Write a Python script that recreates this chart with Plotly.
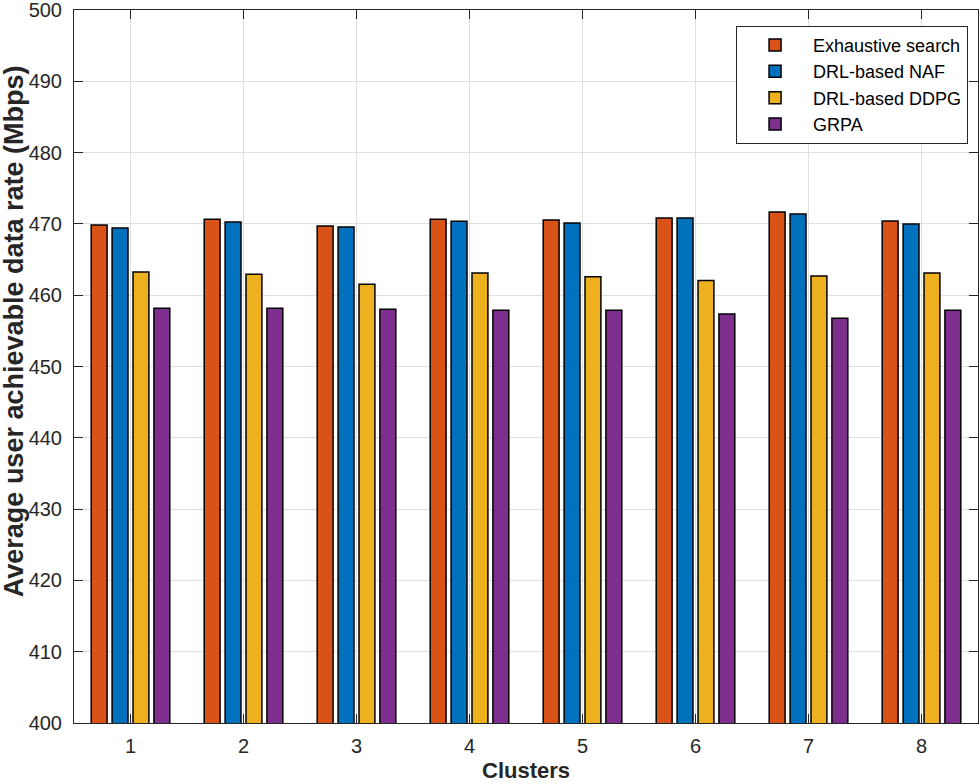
import plotly.graph_objects as go

clusters = [1, 2, 3, 4, 5, 6, 7, 8]
exhaustive = [469.86, 470.65, 469.72, 470.65, 470.56, 470.84, 471.68, 470.42]
naf = [469.44, 470.28, 469.58, 470.37, 470.14, 470.84, 471.40, 470.00]
ddpg = [463.27, 462.94, 461.53, 463.13, 462.58, 462.05, 462.70, 463.13]
grpa = [458.18, 458.18, 458.04, 457.90, 457.90, 457.38, 456.77, 457.90]
y_ticks = [400, 410, 420, 430, 440, 450, 460, 470, 480, 490, 500]

series = [
    ("Exhaustive search", exhaustive, "#D95319"),
    ("DRL-based NAF", naf, "#0072BD"),
    ("DRL-based DDPG", ddpg, "#EDB120"),
    ("GRPA", grpa, "#7E2F8E"),
]

fig = go.Figure()
for name, vals, col in series:
    fig.add_trace(go.Bar(
        x=clusters, y=vals, name=name,
        marker=dict(color=col, line=dict(color="black", width=1.5)),
    ))

font_family = "Liberation Sans, Arial, Helvetica, sans-serif"
fig.update_layout(
    width=980, height=784,
    margin=dict(l=74, r=2, t=10, b=61, autoexpand=False),
    paper_bgcolor="white", plot_bgcolor="white",
    barmode="group", bargap=0.26, bargroupgap=0.24,
    font=dict(family=font_family, size=20, color="#262626"),
    showlegend=True,
    legend=dict(
        x=0.989, y=0.978, xanchor="right", yanchor="top",
        bgcolor="white", bordercolor="#262626", borderwidth=1,
        font=dict(family=font_family, size=18, color="black"),
        tracegroupgap=0, itemwidth=66,
    ),
    xaxis=dict(
        range=[0.5, 8.5], tickmode="array", tickvals=clusters,
        ticktext=[str(c) for c in clusters],
        showgrid=True, gridcolor="#DFDFDF", gridwidth=1,
        showline=True, linecolor="#262626", linewidth=1, mirror="ticks",
        ticks="inside", ticklen=9, tickcolor="#262626",
        ticklabelstandoff=5,
        automargin=False,
        zeroline=False,
    ),
    yaxis=dict(
        range=[400, 500], tickmode="array", tickvals=y_ticks,
        ticktext=[str(v) for v in y_ticks],
        showgrid=True, gridcolor="#DFDFDF", gridwidth=1,
        showline=True, linecolor="#262626", linewidth=1, mirror="ticks",
        ticks="inside", ticklen=9, tickcolor="#262626",
        ticklabelstandoff=7, ticklabeloverflow="allow",
        automargin=False,
        zeroline=False,
    ),
    annotations=[
        dict(text="<b>Average user achievable data rate (Mbps)</b>",
             xref="paper", yref="paper", x=-0.066, y=0.55,
             xanchor="center", yanchor="middle", textangle=-90, showarrow=False,
             font=dict(family=font_family, size=27, color="#262626")),
        dict(text="<b>Clusters</b>",
             xref="paper", yref="paper", x=0.5, y=-0.066,
             xanchor="center", yanchor="middle", showarrow=False,
             font=dict(family=font_family, size=22, color="#262626")),
    ],
)

fig.write_html("out.html", config={"displayModeBar": False},
               post_script="document.body.style.margin='0';document.body.style.padding='0';")
